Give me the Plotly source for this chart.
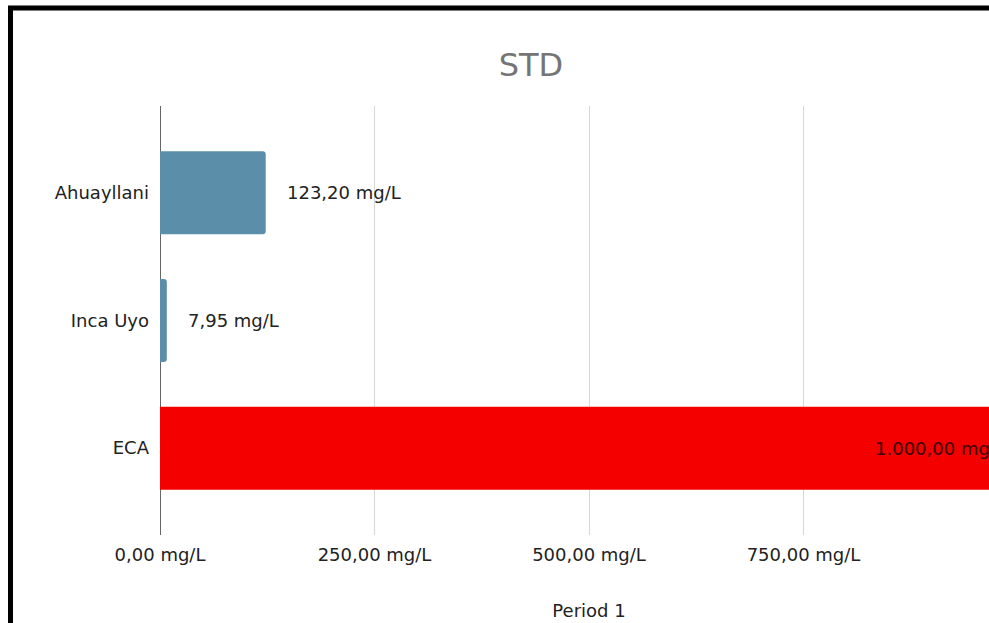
import plotly.graph_objects as go

categories = ["Ahuayllani", "Inca Uyo", "ECA"]
values = [123.20, 7.95, 1000.00]
labels = ["123,20 mg/L", "7,95 mg/L", "1.000,00 mg/L"]
bar_colors = ["#5b8fa9", "#5b8fa9", "#f50000"]
tick_vals = [0, 250, 500, 750, 1000]
tick_text = ["0,00 mg/L", "250,00 mg/L", "500,00 mg/L", "750,00 mg/L", "1.000,00 mg/L"]

FONT = "DejaVu Sans"
W, H = 1052, 623
L, R, T, B = 160, W - 1018, 106, 88

fig = go.Figure()
fig.add_trace(go.Bar(
    y=categories, x=values, orientation="h",
    marker=dict(color=bar_colors, cornerradius=3, line=dict(width=0)),
    width=0.65, hoverinfo="x+y",
))

annotations = []
for i, (c, v, t) in enumerate(zip(categories, values, labels)):
    if i < 2:
        annotations.append(dict(x=v, y=c, xref="x", yref="y", text=t, showarrow=False,
                                xanchor="left", xshift=19,
                                font=dict(family=FONT, size=18, color="#222222")))
    else:
        annotations.append(dict(x=v, y=c, xref="x", yref="y", text=t, showarrow=False,
                                xanchor="right", xshift=-10,
                                font=dict(family=FONT, size=18, color="#3a0000")))

pw = W - L - R
ph = H - T - B
def px_x(p):
    return (p - L) / pw
def px_y(p):
    return (H - B - p) / ph

fig.update_layout(
    width=W, height=H,
    margin=dict(l=L, r=R, t=T, b=B, pad=0, autoexpand=False),
    paper_bgcolor="white", plot_bgcolor="white",
    showlegend=False,
    title=dict(text="STD", x=531 / W, xref="container", xanchor="center",
               y=1 - 65 / H, yref="container", yanchor="middle",
               font=dict(family=FONT, size=32, color="#757575")),
    font=dict(family=FONT, size=18, color="#222222"),
    xaxis=dict(range=[0, 1000], tickvals=tick_vals, ticktext=tick_text,
               showgrid=True, gridcolor="#d6d6d6", gridwidth=1,
               zeroline=True, zerolinecolor="#666666", zerolinewidth=1,
               showline=False, ticks="", ticklabelstandoff=7, automargin=False,
               title=dict(text="Period 1", standoff=40,
                          font=dict(family=FONT, size=18, color="#222222"))),
    yaxis=dict(categoryorder="array", categoryarray=categories,
               range=[2.68, -0.68], showgrid=False, zeroline=False,
               showline=False, ticks="", ticklabelstandoff=10, automargin=False),
    annotations=annotations,
    shapes=[dict(type="rect", xref="paper", yref="paper",
                 x0=px_x(10.5), x1=px_x(W - 10), y0=px_y(640), y1=px_y(8),
                 line=dict(color="black", width=5), fillcolor="rgba(0,0,0,0)",
                 layer="above")],
)

fig.write_html("out.html", config={"displayModeBar": False},
               post_script="document.body.style.margin='0';document.body.style.overflow='hidden';document.documentElement.style.overflow='hidden';")
